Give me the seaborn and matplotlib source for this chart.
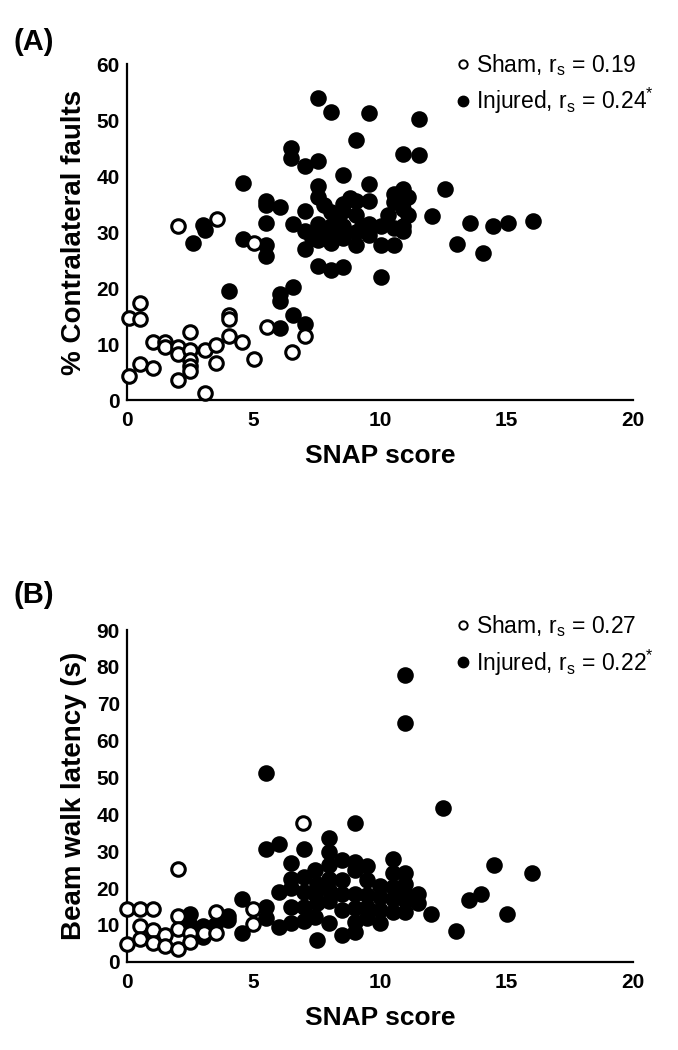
import numpy as np
import matplotlib
matplotlib.use("Agg")
import matplotlib.pyplot as plt
from matplotlib.lines import Line2D
import seaborn as sns

# ── Panel A: % contralateral faults vs SNAP score ─────────────
sham_a_snap = [0.07, 0.53, 0.53, 0.07, 0.53, 1.03, 1.05, 1.51, 1.51, 2.04, 2.04, 2.04,
               2.04, 2.5, 2.5, 2.5, 2.5, 2.5, 3.07, 3.07, 3.53, 3.53, 3.55, 4.05,
               4.05, 4.05, 4.54, 5.03, 5.03, 5.53, 6.51, 7.04]
sham_a_faults = [14.6, 17.4, 14.4, 4.3, 6.4, 10.4, 5.7, 10.4, 9.4, 31.0, 9.5, 8.3,
                 3.6, 12.2, 8.9, 7.1, 6.0, 5.1, 8.9, 1.2, 9.9, 6.7, 32.4, 15.2,
                 14.4, 11.4, 10.4, 7.4, 28.0, 13.1, 8.6, 11.4]

inj_a_snap = [2.6, 3.0, 3.1, 4.05, 4.6, 4.6, 5.5, 5.5, 5.5, 5.5, 5.5, 6.05, 6.05,
              6.05, 6.05, 6.5, 6.5, 6.55, 6.55, 6.55, 7.05, 7.05, 7.05, 7.05, 7.05,
              7.55, 7.55, 7.55, 7.55, 7.55, 7.55, 7.55, 7.55, 8.05, 8.05, 8.05, 8.05,
              8.05, 8.05, 8.55, 8.55, 8.55, 8.55, 8.55, 8.55, 9.05, 9.05, 9.05, 9.05,
              9.05, 9.55, 9.55, 9.55, 9.55, 9.55, 10.05, 10.05, 10.05, 10.55, 10.55,
              10.55, 10.55, 10.9, 10.9, 10.9, 10.9, 10.9, 10.9, 11.1, 11.1, 11.55,
              11.55, 12.05, 12.55, 13.05, 13.55, 14.05, 14.45, 15.05, 16.05,
              7.3, 8.3, 9.3, 8.8, 10.3, 7.8]
inj_a_faults = [28.0, 31.3, 30.3, 19.4, 38.7, 28.8, 35.6, 34.8, 31.7, 27.6, 25.8, 34.4, 19.0,
                17.6, 12.8, 45.0, 43.3, 20.2, 15.1, 31.5, 41.8, 33.8, 30.2, 27.0, 13.6,
                53.9, 42.7, 38.3, 36.3, 31.5, 30.0, 28.5, 24.0, 51.5, 33.5, 31.0, 30.0,
                28.0, 23.3, 40.2, 35.0, 33.8, 31.0, 29.0, 23.7, 46.4, 35.5, 33.0, 30.0,
                27.6, 51.3, 38.5, 35.6, 31.5, 29.5, 31.1, 27.6, 21.9, 36.8, 35.3,
                30.8, 27.6, 43.9, 37.7, 35.3, 34.1, 31.0, 30.1, 36.3, 33.0, 50.1,
                43.8, 32.9, 37.7, 27.9, 31.6, 26.2, 31.1, 31.6, 32.0,
                29.0, 32.5, 31.0, 36.0, 33.0, 34.8]

# ── Panel B: beam walk latency vs SNAP score ──────────────────
sham_b_snap = [0.0, 0.0, 0.53, 0.53, 0.53, 1.05, 1.05, 1.05, 1.51, 1.51, 2.01, 2.01,
               2.01, 2.01, 2.5, 2.5, 3.03, 3.51, 3.51, 5.0, 5.0, 6.97]
sham_b_latency = [14.2, 4.8, 14.2, 9.7, 6.1, 14.2, 8.6, 5.0, 7.2, 4.2, 25.3, 12.4,
                  8.8, 3.6, 7.7, 5.4, 7.7, 13.6, 7.7, 14.2, 10.2, 37.7]

inj_b_snap = [2.5, 2.5, 3.0, 3.0, 4.0, 4.55, 4.55, 5.5, 5.5, 6.0, 5.5, 5.5, 6.0, 6.0,
              6.5, 6.5, 6.5, 7.0, 7.0, 7.0, 7.45, 7.45, 7.45, 7.5, 8.0, 8.0, 8.0, 8.0,
              8.0, 8.5, 8.5, 9.0, 9.0, 9.0, 9.0, 9.0, 9.0, 9.5, 9.5, 9.5, 10.0, 10.0,
              10.5, 10.5, 10.5, 10.5, 11.0, 11.0, 11.0, 11.0, 11.0, 11.0, 11.5, 11.5,
              12.0, 12.5, 13.0, 13.5, 14.0, 14.5, 15.0, 16.0,
              3.5, 4.0, 7.5, 8.0, 8.5, 9.5, 7.0, 6.5,
              7.5, 8.0, 8.5, 9.0, 9.5, 10.0, 10.0, 10.5, 11.0, 7.0, 6.5, 8.5]
inj_b_latency = [12.9, 9.9, 9.7, 6.8, 11.3, 16.9, 7.7, 51.3, 30.5, 31.9, 14.9, 11.8, 19.0, 9.5,
                 26.9, 19.9, 14.9, 30.5, 22.9, 14.9, 24.9, 18.5, 12.2, 5.9, 33.7, 29.8, 26.2, 19.4,
                 10.4, 22.3, 7.2, 37.7, 27.1, 24.9, 18.5, 10.8, 8.1, 22.3, 18.0, 15.0, 17.5, 14.0,
                 28.0, 20.3, 17.0, 13.5, 77.8, 64.7, 24.1, 21.0, 16.7, 18.5, 18.5, 16.0,
                 13.1, 41.7, 8.4, 16.7, 18.5, 26.2, 13.1, 24.0,
                 10.0, 12.5, 21.0, 16.5, 14.0, 12.0, 11.0, 10.5,
                 16.0, 22.5, 18.5, 14.5, 26.0, 20.5, 10.5, 24.0, 13.5, 19.0, 22.5, 27.5]

sns.set_style("white")
plt.rcParams["font.family"] = ["Liberation Sans", "DejaVu Sans"]
plt.rcParams["mathtext.fontset"] = "custom"
plt.rcParams["mathtext.rm"] = "Liberation Sans"
plt.rcParams["text.color"] = "black"
plt.rcParams["axes.labelcolor"] = "black"

fig = plt.figure(figsize=(6.78, 10.5), dpi=100)
ax_a = fig.add_axes([0.187, 0.619, 0.747, 0.320])
ax_b = fig.add_axes([0.187, 0.084, 0.747, 0.316])

dot = dict(s=95, linewidth=2.2, edgecolor="black", clip_on=False, zorder=3)


def style_axis(ax, ymax, ystep, ylabel, legend_rs, legend_y):
    ax.set_xlim(0, 20)
    ax.set_ylim(0, ymax)
    ax.set_xticks(np.arange(0, 21, 5))
    ax.set_yticks(np.arange(0, ymax + 1, ystep))
    for side in ["top", "right"]:
        ax.spines[side].set_visible(False)
    for side in ["left", "bottom"]:
        ax.spines[side].set_linewidth(1.6)
        ax.spines[side].set_color("black")
    ax.tick_params(axis="x", length=0, pad=8, labelsize=15, colors="black")
    ax.tick_params(axis="y", length=0, pad=5, labelsize=15, colors="black")
    for lab in ax.get_xticklabels() + ax.get_yticklabels():
        lab.set_fontweight("bold")
    ax.set_xlabel("SNAP score", fontsize=19, fontweight="bold", labelpad=10)
    ax.set_ylabel(ylabel, fontsize=20, fontweight="bold", labelpad=7)
    handles = [
        Line2D([], [], marker="o", ls="", ms=6, mfc="white", mec="black", mew=1.4,
               label=r"Sham, r$_\mathregular{s}$ = " + legend_rs[0]),
        Line2D([], [], marker="o", ls="", ms=7.5, mfc="black", mec="black",
               label=r"Injured, r$_\mathregular{s}$ = " + legend_rs[1] + r"$^\mathregular{*}$"),
    ]
    ax.legend(handles=handles, loc="upper left", bbox_to_anchor=(0.646, legend_y),
              frameon=False, fontsize=16.5, handletextpad=0.15, handlelength=0.8,
              labelspacing=0.35, borderaxespad=0, borderpad=0)


sns.scatterplot(x=inj_a_snap, y=inj_a_faults, ax=ax_a, color="black", **dot)
sns.scatterplot(x=sham_a_snap, y=sham_a_faults, ax=ax_a, color="white", **dot)
style_axis(ax_a, 60, 10, "% Contralateral faults", ["0.19", "0.24"], 1.035)

sns.scatterplot(x=inj_b_snap, y=inj_b_latency, ax=ax_b, color="black", **dot)
sns.scatterplot(x=sham_b_snap, y=sham_b_latency, ax=ax_b, color="white", **dot)
style_axis(ax_b, 90, 10, "Beam walk latency (s)", ["0.27", "0.22"], 1.05)

fig.text(0.02, 0.96, "(A)", fontsize=21, fontweight="bold", va="center")
fig.text(0.02, 0.433, "(B)", fontsize=21, fontweight="bold", va="center")

fig.savefig("out.png", dpi=100, facecolor="white")
